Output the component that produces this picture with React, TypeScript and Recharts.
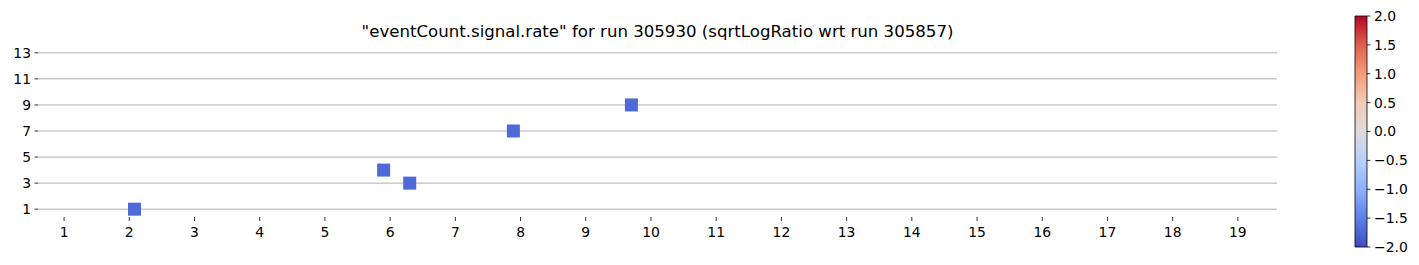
import React from "react";
import {
  ScatterChart,
  Scatter,
  XAxis,
  YAxis,
  ReferenceLine,
  ComposedChart,
  ReferenceArea,
  Line,
} from "recharts";

// ---- data ----
const pointX = [2.08, 5.9, 6.3, 7.89, 9.7];
const pointY = [1, 4, 3, 7, 9];
const pointColors = ["#4e69d8", "#4e69d8", "#4e69d8", "#4e69d8", "#4e69d8"];
const xTicks = [1, 2, 3, 4, 5, 6, 7, 8, 9, 10, 11, 12, 13, 14, 15, 16, 17, 18, 19];
const yTicks = [1, 3, 5, 7, 9, 11, 13];
const cbTicks = [-2, -1.5, -1, -0.5, 0, 0.5, 1, 1.5, 2];
const cbRange = [-2, 2];
const titleText = '"eventCount.signal.rate" for run 305930 (sqrtLogRatio wrt run 305857)';

const points = pointX.map((x, i) => ({ x, y: pointY[i], color: pointColors[i] }));
const cbData = [
  { x: 0, y: cbRange[0] },
  { x: 1, y: cbRange[1] },
];

const FONT = '"DejaVu Sans", sans-serif';
const TICK_FS = 13.9;

const Square = (props: any) => {
  const { cx, cy, payload } = props;
  const s = 13;
  return <rect x={cx - s / 2} y={cy - s / 2} width={s} height={s} fill={payload.color} />;
};

const fmtCb = (v: number) => v.toFixed(1).replace("-", "\u2212");

export default function App() {
  return (
    <div style={{ position: "absolute", left: 0, top: 0, width: 1419, height: 265, background: "#fff", fontFamily: FONT }}>
      <div
        style={{
          position: "absolute",
          left: 38,
          width: 1239,
          top: 21,
          textAlign: "center",
          fontSize: 16.6,
          lineHeight: "22px",
          color: "#000",
          whiteSpace: "nowrap",
        }}
      >
        {titleText}
      </div>
      <div style={{ position: "absolute", left: 0, top: 0 }}>
        <ScatterChart width={1419} height={265} margin={{ top: 45, right: 142, bottom: 0, left: 0 }}>
          <XAxis
            type="number"
            dataKey="x"
            domain={[0.6, 19.6]}
            ticks={xTicks}
            interval={0}
            allowDataOverflow
            axisLine={false}
            tickSize={4}
            tickMargin={6.5}
            tickLine={{ stroke: "#000", strokeWidth: 0.8 }}
            tick={{ fill: "#000", fontSize: TICK_FS, fontFamily: FONT }}
            height={48}
          />
          <YAxis
            type="number"
            dataKey="y"
            domain={[0.4, 13.6]}
            ticks={yTicks}
            interval={0}
            allowDataOverflow
            axisLine={false}
            tickSize={3.5}
            tickMargin={3.5}
            tickLine={{ stroke: "#000", strokeWidth: 0.8 }}
            tick={{ fill: "#000", fontSize: TICK_FS, fontFamily: FONT }}
            width={38}
          />
          <Scatter data={points} shape={Square} isAnimationActive={false} />
          {yTicks.map((t) => (
            <ReferenceLine key={t} y={t} stroke="#b0b0b0" strokeWidth={1} />
          ))}
        </ScatterChart>
      </div>
      <div style={{ position: "absolute", left: 1330, top: 0 }}>
        <ComposedChart width={89} height={265} data={cbData} margin={{ top: 16, right: 0, bottom: 18, left: 25 }}>
          <defs>
            <linearGradient id="coolwarm" x1="0" y1="1" x2="0" y2="0">
              <stop offset="0" stopColor="#3b4cc0" />
              <stop offset="0.125" stopColor="#5f7fe8" />
              <stop offset="0.25" stopColor="#8db0fe" />
              <stop offset="0.375" stopColor="#b8d0f9" />
              <stop offset="0.5" stopColor="#dddcdc" />
              <stop offset="0.625" stopColor="#f2cbb7" />
              <stop offset="0.75" stopColor="#f49a7b" />
              <stop offset="0.875" stopColor="#de604d" />
              <stop offset="1" stopColor="#b40426" />
            </linearGradient>
          </defs>
          <XAxis type="number" dataKey="x" domain={[0, 1]} hide />
          <YAxis
            type="number"
            dataKey="y"
            orientation="right"
            domain={cbRange}
            ticks={cbTicks}
            interval={0}
            axisLine={false}
            tickSize={3.5}
            tickMargin={3.5}
            tickFormatter={fmtCb}
            tickLine={{ stroke: "#000", strokeWidth: 0.8 }}
            tick={{ fill: "#000", fontSize: TICK_FS, fontFamily: FONT }}
            width={52}
          />
          <Line dataKey="y" stroke="none" dot={false} isAnimationActive={false} />
          <ReferenceArea
            x1={0}
            x2={1}
            y1={cbRange[0]}
            y2={cbRange[1]}
            fill="url(#coolwarm)"
            fillOpacity={1}
            stroke="#000"
            strokeWidth={0.8}
          />
        </ComposedChart>
      </div>
    </div>
  );
}
